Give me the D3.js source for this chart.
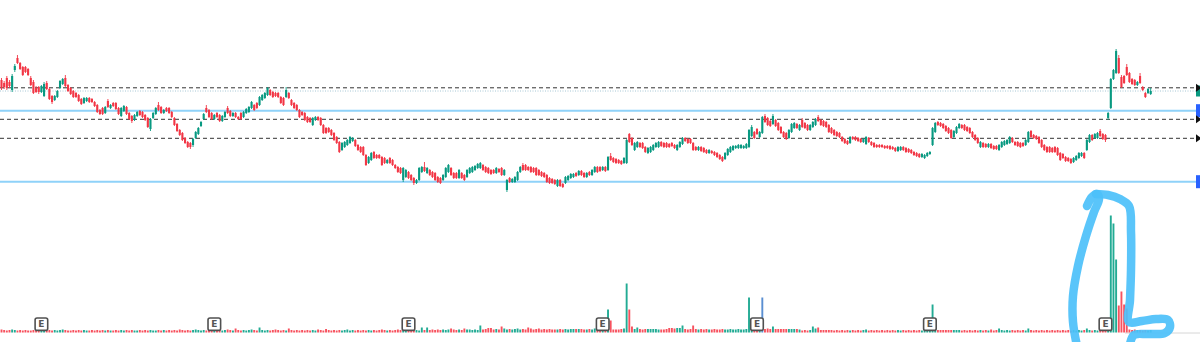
<!DOCTYPE html>
<html>
<head>
<meta charset="utf-8">
<script src="https://cdn.jsdelivr.net/npm/d3@7"></script>
<style>
  html, body { margin: 0; padding: 0; background: #ffffff; }
  svg { display: block; }
</style>
</head>
<body>
<svg id="chart" width="1200" height="342"></svg>
<script>
// Daily OHLC series
const open = [
220,217,222,218,210,230,242,237,233,233,
231,222,218,212,213,208,204,217,211,204,
200,203,212,216,222,215,212,209,207,205,
201,197,199,202,201,198,195,190,192,187,
199,192,197,197,192,184,189,193,187,184,
180,184,189,188,185,182,171,182,186,195,
193,187,192,192,188,182,176,170,167,162,
158,157,155,162,166,174,181,192,190,187,
181,187,185,179,183,192,189,184,187,183,
187,183,187,188,192,195,197,195,200,202,
205,210,208,207,207,203,202,203,207,200,
197,195,190,188,187,183,182,175,180,183,
182,175,172,172,170,167,163,158,150,153,
155,157,159,160,155,153,153,145,137,140,
148,145,145,143,142,137,142,140,135,133,
132,120,123,128,125,122,117,120,128,133,
127,130,128,127,123,122,120,123,128,132,
127,127,122,127,125,123,127,128,130,132,
132,135,133,132,130,130,127,131,132,125,
110,122,118,118,120,128,135,135,133,133,
132,132,130,128,127,125,122,121,120,114,
120,116,117,120,122,123,127,125,129,127,
123,128,125,128,133,133,130,133,130,144,
142,141,140,139,137,137,166,162,150,153,
157,157,153,147,148,150,153,153,158,157,
157,156,157,155,150,153,156,162,161,161,
157,153,150,153,152,150,147,149,148,147,
145,143,141,145,148,150,152,152,152,152,
152,153,164,168,171,163,167,184,182,179,
176,180,177,173,168,167,162,168,172,176,
170,180,177,175,170,173,175,183,180,179,
178,175,172,170,168,167,163,161,159,157,
163,163,162,161,158,156,162,158,157,155,
155,155,154,154,154,153,152,149,150,153,
152,151,150,148,147,146,143,142,144,146,
155,168,178,177,176,174,172,170,163,167,
172,175,175,173,172,168,165,162,153,157,
156,153,156,154,154,150,153,155,156,157,
162,158,158,157,157,155,158,169,165,164,
163,160,155,153,153,152,153,152,147,146,
143,142,141,138,140,142,144,147,150,158,
165,162,162,169,166,165,182,192,221,227,
242,223,224,233,227,221,220,215,224,213,
207,207,206];

const high = [
222,219,224,220,226,236,245,238,234,234,
232,224,220,214,214,215,218,219,212,205,
205,210,220,222,225,216,213,210,208,206,
202,203,203,203,202,199,196,191,193,194,
201,196,198,198,193,193,195,194,188,185,
186,189,190,189,186,183,182,188,193,198,
194,191,193,193,189,183,177,171,168,163,
159,158,162,169,173,179,187,195,191,188,
186,188,186,185,189,194,190,188,188,184,
188,189,192,194,199,196,198,204,206,208,
213,211,209,208,208,204,203,213,208,201,
198,196,191,189,188,184,183,183,184,184,
183,176,173,173,171,168,164,159,158,159,
161,164,163,161,156,154,154,146,144,148,
149,146,146,144,143,141,143,141,136,134,
133,133,131,129,126,123,121,133,134,138,
133,131,129,128,124,123,126,133,136,133,
128,128,131,128,126,131,133,134,135,137,
138,136,134,133,131,131,133,132,133,131,
121,123,122,124,129,134,137,136,134,134,
133,133,131,129,128,126,123,122,121,121,
121,117,124,125,127,127,128,130,130,128,
128,129,131,134,134,134,134,134,144,147,
143,142,141,140,143,161,167,163,158,159,
158,158,154,153,154,156,158,159,159,158,
158,157,158,156,156,159,163,163,162,162,
158,154,154,154,153,151,151,150,149,148,
146,144,148,152,154,155,155,156,156,155,
157,171,175,169,172,169,184,186,183,180,
186,181,178,174,169,168,171,177,178,177,
176,182,178,176,176,179,182,185,181,180,
179,176,173,171,169,168,164,162,160,164,
164,164,163,162,162,164,163,159,158,156,
156,156,155,155,155,154,153,154,154,154,
153,152,151,149,148,147,147,146,148,149,
173,178,179,178,177,175,173,171,170,174,
177,176,176,174,173,169,166,163,159,158,
157,157,157,155,155,156,159,160,161,164,
163,159,159,158,158,161,169,170,166,165,
164,161,156,154,154,153,154,153,148,147,
144,143,142,143,145,148,148,148,161,166,
166,167,168,171,167,166,188,222,231,251,
245,225,225,236,228,222,221,219,227,214,
208,212,212];

const low = [
210,211,210,212,208,228,236,230,224,227,
224,214,206,207,206,207,203,210,200,196,
199,202,211,215,213,208,205,202,202,198,
195,196,198,197,197,193,187,185,185,186,
192,191,193,190,185,183,188,185,180,177,
179,183,184,182,179,172,169,181,185,189,
186,186,188,186,182,174,168,164,159,156,
152,151,153,161,165,173,180,187,182,180,
180,182,178,178,182,186,183,183,182,180,
180,182,186,187,191,189,191,194,199,201,
204,204,202,203,202,196,194,202,201,194,
191,189,182,184,179,177,177,174,179,179,
174,166,166,167,164,159,156,147,149,152,
154,156,158,153,149,147,144,134,136,139,
141,141,141,134,136,136,136,134,131,127,
126,118,122,121,119,115,116,119,127,128,
126,124,122,119,117,116,119,122,127,124,
121,121,121,121,119,122,126,127,129,131,
131,129,127,126,125,126,126,127,124,124,
108,117,117,117,119,127,129,129,129,127,
127,124,124,123,122,117,116,116,115,113,
113,112,116,119,121,122,123,124,124,122,
122,124,124,127,127,128,129,128,129,139,
137,136,136,135,136,136,157,154,149,152,
152,151,147,146,147,149,152,152,153,152,
152,152,153,151,149,152,155,158,156,156,
149,149,149,148,147,146,146,146,144,142,
140,138,140,144,147,149,151,151,151,151,
151,152,163,161,165,162,166,177,174,173,
175,173,169,166,162,160,161,167,171,171,
169,172,171,169,169,172,174,178,174,173,
172,167,166,164,163,162,158,156,155,156,
160,159,158,157,157,155,157,154,152,152,
152,152,151,151,150,150,148,148,149,149,
147,147,146,144,143,142,142,141,143,145,
154,167,174,173,171,168,166,161,162,166,
171,171,169,168,166,162,159,156,152,152,
152,152,151,150,150,149,152,154,155,156,
157,154,153,152,153,154,157,162,161,160,
156,152,149,147,147,147,147,144,139,141,
138,138,136,137,139,141,143,141,149,157,
159,161,161,163,160,158,180,191,220,226,
226,212,216,224,217,215,214,214,216,209,
202,206,205];

const close = [
212,213,212,214,224,234,237,231,225,228,
225,215,207,208,208,214,216,211,201,198,
204,209,219,221,214,209,206,203,203,199,
196,202,202,198,198,194,188,186,186,193,
193,195,194,191,186,192,194,186,181,179,
185,188,185,183,180,173,181,187,192,190,
187,190,189,187,183,175,169,165,160,157,
153,153,161,168,172,178,186,188,183,181,
185,183,179,184,188,187,184,187,183,181,
181,188,191,193,198,190,192,203,205,207,
212,205,203,204,203,197,195,210,202,195,
192,190,183,185,180,178,178,182,183,180,
175,167,167,168,165,160,157,148,157,158,
160,163,162,154,150,148,145,135,143,147,
142,142,142,135,137,140,137,135,132,128,
127,132,130,122,120,117,120,132,133,129,
132,125,123,120,118,117,125,132,135,125,
122,122,130,122,120,130,132,133,134,136,
137,130,128,127,126,127,132,128,125,130,
120,118,121,123,128,133,130,130,130,128,
128,125,125,124,123,118,117,117,116,120,
114,113,123,124,126,126,124,129,125,123,
127,125,130,133,128,129,133,129,143,140,
138,137,137,136,142,160,158,155,157,158,
153,152,148,152,153,155,157,158,154,153,
153,153,154,152,155,158,162,159,157,157,
150,150,153,149,148,147,150,147,145,143,
141,139,147,151,153,154,154,155,155,154,
156,170,173,162,166,168,183,178,175,174,
184,174,170,167,163,161,170,176,177,172,
175,173,172,170,175,178,181,179,175,174,
173,168,167,165,164,163,159,157,156,163,
161,160,159,158,161,163,158,155,153,153,
153,153,152,152,151,151,149,153,153,150,
148,148,147,145,144,143,146,145,147,148,
172,177,175,174,172,169,167,162,169,173,
176,172,170,169,167,163,160,157,158,153,
153,156,152,151,151,155,158,159,160,163,
158,155,154,153,154,160,168,163,162,161,
157,153,150,148,148,148,148,145,140,142,
139,139,137,142,144,147,147,142,160,165,
160,166,167,164,161,160,187,221,230,249,
227,213,217,225,218,216,215,218,217,210,
203,211,209];

// Daily volume (thousands of shares)
const volume = [
30,25,20,25,30,25,20,25,20,25,20,20,25,20,25,25,30,20,25,20,
25,20,25,30,25,20,20,25,20,25,20,25,20,20,25,20,25,20,25,20,
25,20,20,25,20,25,20,25,20,25,20,20,25,20,25,20,25,20,20,25,
20,25,20,25,20,25,20,30,25,20,25,20,25,30,25,20,25,20,25,20,
25,20,25,20,25,30,25,20,40,25,20,25,20,25,30,25,20,50,25,20,
25,20,25,30,25,20,25,20,40,25,20,25,20,25,20,25,20,25,20,30,
25,20,35,25,20,25,20,25,20,25,30,20,25,20,25,20,25,20,25,20,
25,20,25,30,25,20,25,20,25,30,25,20,25,20,25,30,25,20,50,25,
50,25,30,25,30,25,30,25,30,40,30,25,30,25,40,30,30,25,30,25,
70,30,35,45,45,30,35,30,60,40,30,35,30,35,40,30,35,30,50,40,
30,35,40,30,35,30,35,30,30,30,35,30,35,30,35,35,35,35,35,30,
30,35,30,40,30,35,30,35,230,120,30,30,30,35,40,490,230,60,35,50,
35,30,35,35,35,35,35,30,30,30,35,45,45,40,45,45,70,35,30,35,
70,35,30,35,30,35,30,30,35,30,30,35,30,30,35,30,30,35,30,30,
35,350,40,35,30,35,350,35,40,35,60,35,35,35,35,35,35,35,35,35,
30,20,25,20,25,60,40,50,25,25,25,25,25,20,25,20,25,20,25,20,
25,20,25,20,25,30,20,25,20,25,20,25,20,25,20,25,20,25,20,25,
20,25,20,25,20,25,20,25,20,30,280,40,25,25,25,25,25,25,25,25,
25,20,25,20,25,20,25,20,25,20,25,20,30,20,25,40,25,20,25,20,
25,20,25,20,25,20,40,25,20,25,20,25,20,25,20,25,20,25,20,25,
20,25,20,25,20,25,20,25,40,25,20,25,20,25,25,25,30,1170,1090,730,
270,410,280,240,30,25,30,25,25,20,25,20,25];

// Sessions with an earnings report
const earningsIdx = [15, 80, 153, 226, 284, 349, 415];

// Horizontal levels: dashed support/resistance and the blue range bounds
const dashedLevels = [212.2, 180.7, 161.7];
const rangeLevels = [189.3, 118.3];

const N = close.length;
const W = 1200, H = 342;
const UP = "#089981", DOWN = "#f23645";
const VOL_UP = "#22ab94", VOL_DOWN = "#f7525f";

const svg = d3.select("#chart");
svg.append("rect").attr("width", W).attr("height", H).attr("fill", "#ffffff");

const x = d3.scaleLinear().domain([0, N - 1]).range([1.5, 1150.7]);
const y = d3.scaleLinear().domain([100, 260]).range([200, 40]);
const yVol = d3.scaleLinear().domain([0, 1250]).range([332.5, 207.5]);

const idx = d3.range(N);
const isUp = i => close[i] >= open[i];

// Volume pane baseline near the right edge
svg.append("line")
  .attr("x1", 1125).attr("x2", W)
  .attr("y1", yVol(0) + 0.5).attr("y2", yVol(0) + 0.5)
  .attr("stroke", "#d6d6d6").attr("stroke-width", 1);

// Volume bars
const volW = 1.9;
const volColor = i => (i === 286 ? "#5a8fd2" : (isUp(i) ? VOL_UP : VOL_DOWN));
svg.append("g").selectAll("rect").data(idx).join("rect")
  .attr("x", i => x(i) - volW / 2)
  .attr("y", i => yVol(volume[i]))
  .attr("width", volW)
  .attr("height", i => Math.max(0.8, yVol(0) - yVol(volume[i])))
  .attr("fill", volColor);

// Earnings markers
const eg = svg.append("g").selectAll("g").data(earningsIdx).join("g")
  .attr("transform", i => `translate(${x(i)},324)`);
eg.append("rect")
  .attr("x", -6.3).attr("y", -6).attr("width", 12.6).attr("height", 12.4)
  .attr("rx", 2).attr("fill", "#ffffff").attr("stroke", "#505050").attr("stroke-width", 1.6);
eg.append("text")
  .attr("x", 0).attr("y", 3.4)
  .attr("text-anchor", "middle")
  .attr("font-family", "DejaVu Sans, sans-serif")
  .attr("font-size", 9).attr("font-weight", 600)
  .attr("fill", "#555555")
  .text("E");

// Range bounds (solid light blue)
svg.append("g").selectAll("line").data(rangeLevels).join("line")
  .attr("x1", 0).attr("x2", 1196)
  .attr("y1", d => y(d)).attr("y2", d => y(d))
  .attr("stroke", "#8fd2f9").attr("stroke-width", 2);

// Dashed levels
svg.append("g").selectAll("line").data(dashedLevels).join("line")
  .attr("x1", 0).attr("x2", 1196)
  .attr("y1", d => y(d)).attr("y2", d => y(d))
  .attr("stroke", "#333333").attr("stroke-width", 1)
  .attr("stroke-dasharray", "4,3");

// Last price line (dotted)
const last = close[N - 1];
svg.append("line")
  .attr("x1", 0).attr("x2", 1196)
  .attr("y1", y(last)).attr("y2", y(last))
  .attr("stroke", "#a8c8d6").attr("stroke-width", 1)
  .attr("stroke-dasharray", "1,1.5");

// Candles: wicks then bodies
const bodyW = 2.1;
svg.append("g").selectAll("line").data(idx).join("line")
  .attr("x1", i => x(i)).attr("x2", i => x(i))
  .attr("y1", i => y(high[i])).attr("y2", i => y(low[i]))
  .attr("stroke", i => isUp(i) ? UP : DOWN)
  .attr("stroke-width", 0.9);
svg.append("g").selectAll("rect").data(idx).join("rect")
  .attr("x", i => x(i) - bodyW / 2)
  .attr("y", i => y(Math.max(open[i], close[i])))
  .attr("width", bodyW)
  .attr("height", i => Math.max(1, Math.abs(y(open[i]) - y(close[i]))))
  .attr("fill", i => isUp(i) ? UP : DOWN);

// Right-edge price scale tags
const tags = svg.append("g");
tags.append("rect")
  .attr("x", 1196).attr("y", y(last) - 5.5).attr("width", 10).attr("height", 11)
  .attr("fill", "#089981");
rangeLevels.forEach(v => {
  tags.append("rect")
    .attr("x", 1196).attr("y", y(v) - 6.5).attr("width", 10).attr("height", 13)
    .attr("fill", "#2962ff");
});
dashedLevels.forEach(v => {
  const yy = y(v);
  tags.append("path")
    .attr("d", `M1196,${yy - 4}L1201.5,${yy}L1196,${yy + 4}Z`)
    .attr("fill", "#111111");
});

// Hand-drawn highlight around the breakout
const pen = d3.line().curve(d3.curveCatmullRom.alpha(0.5));
const strokes = [
  [[1077, 346], [1073, 322], [1073, 296], [1078, 266], [1086, 236], [1094, 212], [1099, 199], [1097, 194], [1092, 197], [1087, 206]],
  [[1096, 194], [1108, 195], [1120, 199], [1129, 206], [1131, 232], [1131, 270], [1130, 300], [1129, 322],
   [1142, 321], [1156, 319], [1168, 320], [1170, 327], [1165, 333], [1148, 334], [1134, 335], [1130, 344]]
];
svg.append("g").selectAll("path").data(strokes).join("path")
  .attr("d", pen)
  .attr("fill", "none")
  .attr("stroke", "#4cc0fa")
  .attr("stroke-width", 8.5)
  .attr("stroke-linecap", "round")
  .attr("stroke-linejoin", "round")
  .attr("opacity", 0.92);
</script>
</body>
</html>
